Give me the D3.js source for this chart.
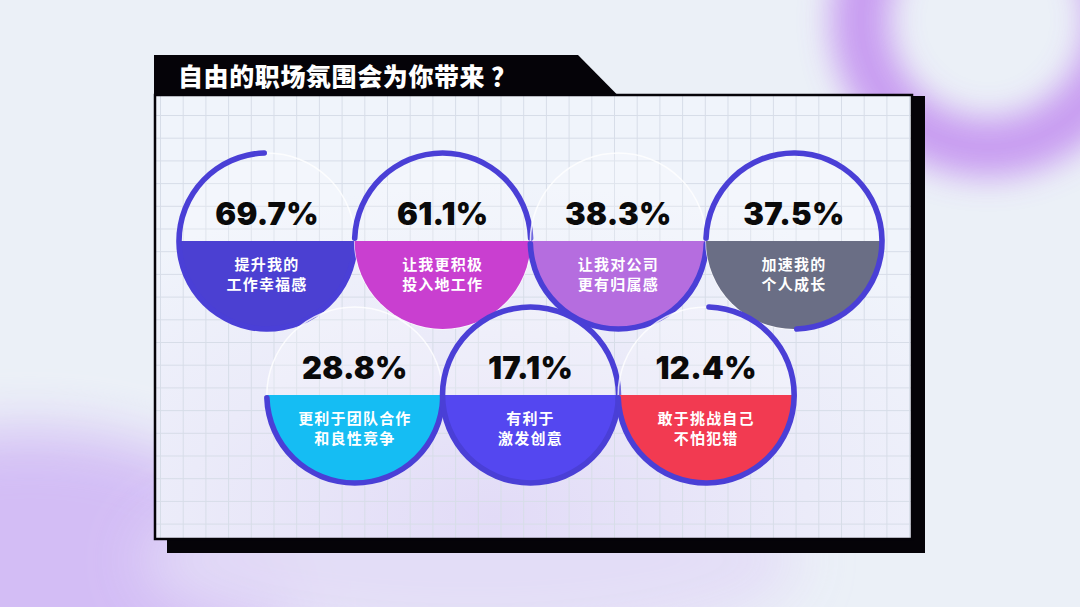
<!DOCTYPE html>
<html>
<head>
<meta charset="utf-8">
<script src="https://cdn.jsdelivr.net/npm/d3@7"></script>
<style>
  html, body { margin: 0; padding: 0; background: #eaf0f7; }
  svg { display: block; }
</style>
</head>
<body>
<svg id="chart" width="1080" height="607"></svg>
<script>
// ---------------- data ----------------
const titleMain = "自由的职场氛围会为你带来";
const titleMark = "？";
const values = [69.7, 61.1, 38.3, 37.5, 28.8, 17.1, 12.4];
const labelLine1 = ["提升我的", "让我更积极", "让我对公司", "加速我的", "更利于团队合作", "有利于", "敢于挑战自己"];
const labelLine2 = ["工作幸福感", "投入地工作", "更有归属感", "个人成长", "和良性竞争", "激发创意", "不怕犯错"];

// ---------------- styling ----------------
const fillColors = ["#4b40d2", "#c93fd0", "#b56ddf", "#6a6e85", "#15bdf3", "#5447f0", "#f23a51"];
// decorative outline arcs (start / end angle in turns, clockwise from 12 o'clock)
const arcStart = [0.25, -0.25, 0.25, -0.25, 0.25, 0, 0];
const arcEnd   = [1.0,  0.25, 0.75, 0.5,  0.75, 1, 0.75];
const gridRow = [0, 0, 0, 0, 1, 1, 1];
const gridCol = [0, 1, 2, 3, 0.5, 1.5, 2.5];

const W = 1080, H = 607;
const svg = d3.select("#chart");
const defs = svg.append("defs");

defs.append("filter").attr("id", "blurBig").attr("x", "-50%").attr("y", "-50%").attr("width", "200%").attr("height", "200%")
  .append("feGaussianBlur").attr("stdDeviation", 28);
defs.append("filter").attr("id", "blurMid").attr("x", "-50%").attr("y", "-50%").attr("width", "200%").attr("height", "200%")
  .append("feGaussianBlur").attr("stdDeviation", 16);

// ---------------- background ----------------
svg.append("rect").attr("width", W).attr("height", H).attr("fill", "#ebf0f7");
svg.append("circle").attr("cx", 988).attr("cy", 20).attr("r", 128)
  .attr("fill", "none").attr("stroke", "#c28ef0").attr("stroke-width", 58)
  .attr("opacity", 0.85).attr("filter", "url(#blurMid)");
svg.append("ellipse").attr("cx", 30).attr("cy", 600).attr("rx", 270).attr("ry", 170)
  .attr("fill", "#d2bbf5").attr("opacity", 0.95).attr("filter", "url(#blurBig)");
svg.append("ellipse").attr("cx", 470).attr("cy", 560).attr("rx", 330).attr("ry", 90)
  .attr("fill", "#e3dcf7").attr("opacity", 0.9).attr("filter", "url(#blurBig)");

// ---------------- panel ----------------
const px = 155, py = 95, pw = 757, ph = 444;
svg.append("rect").attr("x", px + 12).attr("y", py + 1).attr("width", pw + 1).attr("height", ph + 13).attr("fill", "#050308");
const panelGrad = defs.append("radialGradient").attr("id", "panelGrad")
  .attr("cx", 0.45).attr("cy", 0.95).attr("r", 0.75);
panelGrad.append("stop").attr("offset", "0%").attr("stop-color", "#e2dbf7");
panelGrad.append("stop").attr("offset", "55%").attr("stop-color", "#ebebf9");
panelGrad.append("stop").attr("offset", "100%").attr("stop-color", "#f0f4fb");
svg.append("rect").attr("x", px).attr("y", py).attr("width", pw).attr("height", ph)
  .attr("fill", "url(#panelGrad)");

const gridG = svg.append("g").attr("stroke", "#d7dde8").attr("stroke-width", 1);
const gx = d3.range(px + 5.5, px + pw, 22.7);
const gy = d3.range(py + 20.5, py + ph, 22.7);
gridG.selectAll("line.v").data(gx).join("line").attr("class", "v")
  .attr("x1", d => d).attr("x2", d => d).attr("y1", py).attr("y2", py + ph);
gridG.selectAll("line.h").data(gy).join("line").attr("class", "h")
  .attr("x1", px).attr("x2", px + pw).attr("y1", d => d).attr("y2", d => d);

svg.append("rect").attr("x", px).attr("y", py).attr("width", pw).attr("height", ph)
  .attr("fill", "none").attr("stroke", "#050308").attr("stroke-width", 2.5);

// title bar
svg.append("path").attr("d", d3.line()([[px - 1, 55], [578, 55], [618, 95.5], [px - 1, 95.5]]) + "Z")
  .attr("fill", "#050308");
const tt = svg.append("text").attr("x", 178).attr("y", 86)
  .attr("fill", "#ffffff").attr("font-family", "'Noto Sans CJK SC', sans-serif")
  .attr("font-weight", 900).attr("font-size", 25).attr("letter-spacing", 0.6);
tt.append("tspan").text(titleMain);
tt.append("tspan").attr("dx", 6).text(titleMark);

// ---------------- circles ----------------
const R = 88;
const x = d3.scaleLinear().domain([0, 3]).range([267, 794]);
const y = d3.scaleLinear().domain([0, 1]).range([241, 395]);
const fmt = d3.format(".1f");

const data = values.map((v, i) => ({
  v, l1: labelLine1[i], l2: labelLine2[i], c: fillColors[i],
  cx: x(gridCol[i]), cy: y(gridRow[i]), a0: arcStart[i] * 2 * Math.PI, a1: arcEnd[i] * 2 * Math.PI
}));

const halfArc = d3.arc().innerRadius(0).outerRadius(R);
const ringArc = d3.arc().innerRadius(R - 2.8).outerRadius(R + 2.8).cornerRadius(2.8);

const g = svg.selectAll("g.bubble").data(data).join("g").attr("class", "bubble")
  .attr("transform", d => `translate(${d.cx},${d.cy})`);

g.append("path").attr("d", halfArc({ startAngle: -Math.PI / 2, endAngle: Math.PI / 2 }))
  .attr("fill", "#ffffff").attr("opacity", 0.22);
g.append("circle").attr("r", R).attr("fill", "none").attr("stroke", "#ffffff")
  .attr("stroke-width", 1.5).attr("opacity", 0.8);
g.append("path").attr("d", halfArc({ startAngle: Math.PI / 2, endAngle: 3 * Math.PI / 2 }))
  .attr("fill", d => d.c);

g.append("path").attr("d", d => ringArc({ startAngle: d.a0, endAngle: d.a1 }))
  .attr("fill", "#4a3fd6");

g.append("text").attr("text-anchor", "middle").attr("y", -16)
  .text(d => fmt(d.v) + "%")
  .attr("fill", "#0a0a0a").attr("font-family", "Inter, 'Liberation Sans', sans-serif")
  .attr("font-weight", 900).attr("font-size", 31).attr("letter-spacing", 0.3);

g.append("text").attr("text-anchor", "middle").attr("y", 29)
  .text(d => d.l1)
  .attr("fill", "#ffffff").attr("font-family", "'Noto Sans CJK SC', sans-serif")
  .attr("font-weight", 700).attr("font-size", 15).attr("letter-spacing", 1.2);
g.append("text").attr("text-anchor", "middle").attr("y", 49)
  .text(d => d.l2)
  .attr("fill", "#ffffff").attr("font-family", "'Noto Sans CJK SC', sans-serif")
  .attr("font-weight", 700).attr("font-size", 15).attr("letter-spacing", 1.2);
</script>
</body>
</html>
